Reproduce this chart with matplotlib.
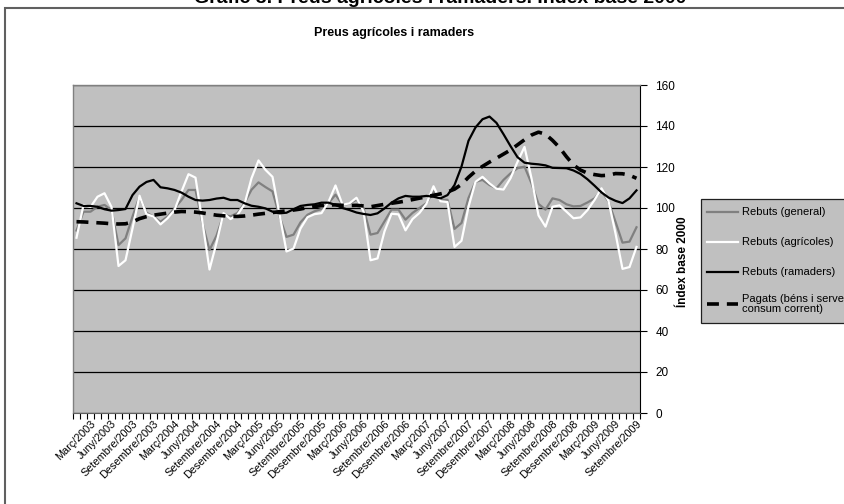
import matplotlib
matplotlib.use('Agg')
import matplotlib.pyplot as plt
from matplotlib.lines import Line2D
from matplotlib.patches import Rectangle

plt.rcParams['font.family'] = ['Liberation Sans', 'DejaVu Sans']

months = ['Gener', 'Febrer', 'Març', 'Abril', 'Maig', 'Juny', 'Juliol', 'Agost',
          'Setembre', 'Octubre', 'Novembre', 'Desembre']
categories = [f'{m}/{y}' for y in range(2003, 2010) for m in months][:81]
label_months = ['Març', 'Juny', 'Setembre', 'Desembre']

series_names = ['Rebuts (general)', 'Rebuts (agrícoles)', 'Rebuts (ramaders)',
                'Pagats (béns i serveis de\nconsum corrent)']

general = [89, 98.2, 98.2, 100.6, 101.5, 99, 81.9, 85.2, 95.8, 105.5,
           97.7, 95.8, 93.3, 95.8, 99.8, 103.9, 108.8, 108.8, 92.5, 79.5,
           86.5, 96.7, 95.9, 97.6, 102.4, 108.9, 112.5, 110.2, 108.1, 95.9,
           85.9, 87, 93, 96.7, 98.4, 99.5, 102.4, 106.5, 101.6, 102.1,
           104.1, 100, 87, 87.8, 93.5, 99.2, 99.2, 94.3, 97.6, 100,
           102.4, 108.1, 104, 104, 89.8, 92.7, 104.9, 112.8, 113.7, 111.2,
           109.6, 113.7, 116.9, 119.4, 120.2, 112, 102, 99.2, 104.7, 103.9,
           101.8, 100.8, 101, 102.7, 104.7, 108.6, 103.1, 93.3, 83.1, 83.6,
           90.6]

agricoles = [85.5, 101.5, 100.5, 105.5, 107.2, 100.5, 71.7, 74.5, 90, 106,
             97, 95.8, 92, 95, 99, 108, 116.5, 114.8, 93, 70,
             83, 97.5, 94.6, 96.7, 101.8, 114.5, 123.2, 118.6, 115.2, 97,
             78.8, 80.2, 90, 95.5, 97, 97.5, 103, 111, 101.6, 102.3,
             105, 98.4, 74.5, 75.4, 88.6, 97.2, 96.9, 89.1, 94.6, 97.6,
             102.1, 110.6, 103.3, 102.9, 81, 84, 100.6, 112.8, 115.2, 112,
             109.4, 109, 114.5, 122.5, 129.8, 114.5, 96.4, 90.9, 100.6, 101.3,
             98.2, 95, 95.4, 99, 103.9, 109.6, 103.5, 87.6, 70.3, 71.2,
             81]

ramaders = [102.3, 101, 101, 100.6, 99.4, 98.7, 99, 99.5, 106.3, 110.4,
            112.7, 113.7, 110.1, 109.6, 108.8, 107.5, 105.5, 103.9, 103.6, 103.9,
            104.6, 105, 103.9, 103.9, 102.3, 101.1, 100.6, 99.8, 98.2, 97.4,
            97.7, 99.4, 101, 101.5, 101.8, 102.6, 102.6, 101.5, 100, 99,
            97.8, 97.1, 96.6, 97.4, 99.8, 102.6, 104.7, 105.9, 105.5, 105.5,
            105.9, 105.5, 104.7, 106.3, 111.2, 120.2, 132.8, 139.3, 143.3, 144.6,
            141.5, 136, 130.2, 124.8, 122.1, 121.6, 121.3, 120.8, 119.6, 119.5,
            119.4, 118.3, 116.6, 114, 110.9, 107.6, 105.1, 103.5, 102.4, 104.7,
            108.6]

pagats = [93.3, 93.2, 93.0, 92.8, 92.6, 92.3, 92.2, 92.3, 93.2, 94.8,
          95.8, 96.5, 97.0, 97.5, 98.0, 98.3, 98.2, 98.0, 97.6, 97.0,
          96.5, 96.2, 95.9, 95.9, 96.1, 96.5, 97.0, 97.4, 97.8, 98.2,
          98.6, 99.0, 99.5, 100.2, 100.7, 101.2, 101.5, 101.5, 101.3, 101.2,
          101.3, 101.0, 100.6, 101.2, 101.8, 102.3, 102.8, 103.4, 104.1, 104.8,
          105.5, 106.2, 106.9, 107.8, 109.2, 111.5, 115.0, 118.0, 120.3, 122.4,
          124.3, 126.3, 128.3, 130.8, 133.3, 135.6, 137.0, 136.0, 133.0, 129.5,
          125.0, 121.0, 118.5, 117.0, 116.3, 115.8, 116.0, 116.8, 116.7, 116.0,
          114.5]

y_ticks = [0, 20, 40, 60, 80, 100, 120, 140, 160]

W, H = 845, 504
fig = plt.figure(figsize=(W / 100, H / 100), dpi=100)


def fx(px):
    return px / W


def fy(py):
    return 1 - py / H


# outer chart frame
fig.add_artist(Rectangle((fx(5), fy(515)), fx(850) - fx(5), fy(8) - fy(515),
                         transform=fig.transFigure, fill=False,
                         ec='#606060', lw=1.5))

# page title, clipped at the very top as in the reference
fig.text(fx(440), fy(-3), 'Gràfic 3. Preus agrícoles i ramaders. Índex base 2000',
         ha='center', va='center', fontsize=14, fontweight='bold')

ax = fig.add_axes([fx(73), fy(413), fx(640) - fx(73), fy(85) - fy(413)])
ax.set_facecolor('#C0C0C0')
x = list(range(len(categories)))

DASH = (3.3, 2.2)
ax.plot(x, general, color='#808080', lw=1.6, zorder=3)
ax.plot(x, agricoles, color='white', lw=1.6, zorder=3)
ax.plot(x, ramaders, color='black', lw=1.6, zorder=4)
ax.plot(x, pagats, color='black', lw=2.6, dashes=DASH, zorder=5)

ax.set_xlim(-0.5, len(categories) - 0.5)
ax.set_ylim(0, 160)
ax.set_axisbelow(True)
ax.yaxis.grid(True, color='black', lw=0.9)

ax.yaxis.tick_right()
ax.set_yticks(y_ticks)
ax.tick_params(axis='y', direction='out', length=5, width=0.8, labelsize=8.5, pad=6)

tick_idx = [i for i, c in enumerate(categories) if c.split('/')[0] in label_months]
ax.set_xticks(tick_idx)
ax.set_xticklabels([categories[i] for i in tick_idx], rotation=45, ha='right',
                   rotation_mode='anchor', fontsize=7.8)
ax.tick_params(axis='x', length=0, pad=4)
ax.set_xticks([i - 0.5 for i in range(len(categories) + 1)], minor=True)
ax.tick_params(axis='x', which='minor', direction='out', length=4, width=0.8)

for s in ['left', 'top']:
    ax.spines[s].set_color('#808080')
    ax.spines[s].set_linewidth(1.0)
ax.spines['bottom'].set_color('#606060')
ax.spines['right'].set_color('black')

fig.text(fx(394), fy(33), 'Preus agrícoles i ramaders', ha='center', va='center',
         fontsize=9, fontweight='bold')
fig.text(fx(683), fy(262), 'Índex base 2000', rotation=90, ha='center', va='center',
         fontsize=8.5, fontweight='bold')

# legend (clipped by right edge as in reference)
fig.add_artist(Rectangle((fx(701), fy(323)), fx(860) - fx(701), fy(199) - fy(323),
                         transform=fig.transFigure, fc='#C0C0C0', ec='#202020', lw=0.9))
leg_y = [212, 242, 272, 304]
styles = [dict(color='#808080', lw=1.6), dict(color='white', lw=1.6),
          dict(color='black', lw=1.6), dict(color='black', lw=2.6, dashes=DASH)]
for name, yy, st in zip(series_names, leg_y, styles):
    fig.add_artist(Line2D([fx(707), fx(738)], [fy(yy), fy(yy)],
                          transform=fig.transFigure, **st))
    fig.text(fx(742), fy(yy), name, ha='left', va='center', fontsize=8,
             linespacing=1.0)

fig.savefig('out.png', dpi=100)
